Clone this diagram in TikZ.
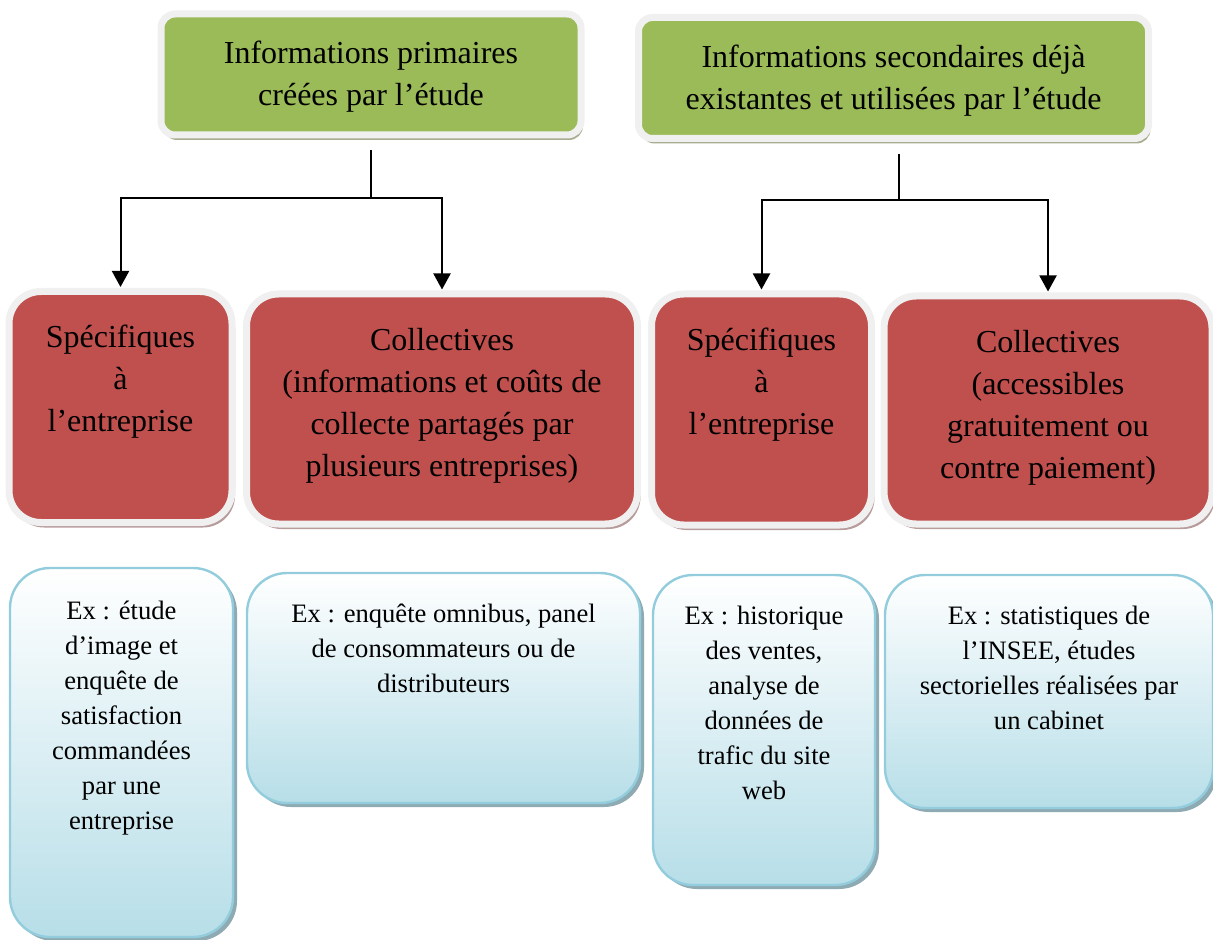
\documentclass[tikz,border=0pt]{standalone}
\usepackage{fontspec}
\setmainfont{Liberation Serif}
\usetikzlibrary{arrows.meta,shadows}

\definecolor{boxgreen}{HTML}{9BBB59}
\definecolor{greenshadow}{HTML}{A9AD8F}
\definecolor{boxred}{HTML}{C0504D}
\definecolor{redshadow}{HTML}{B89C9C}
\definecolor{boxblue}{HTML}{B7DEE8}
\definecolor{blueline}{HTML}{93CDDD}
\definecolor{blueshadow}{HTML}{8EAAB3}

\begin{document}
\begin{tikzpicture}[x=0.5pt,y=-0.5pt,
  topbox/.style={rounded corners=7pt, fill=boxgreen, draw=black!6, line width=3.5pt,
    drop shadow={shadow xshift=1pt, shadow yshift=-2.5pt, fill=greenshadow, opacity=1}},
  catbox/.style={rounded corners=16pt, fill=boxred, draw=black!6, line width=3.5pt,
    drop shadow={shadow xshift=1.5pt, shadow yshift=-2.5pt, fill=redshadow, opacity=1}},
  exbox/.style={rounded corners=20pt, top color=white, middle color=boxblue!60, bottom color=boxblue,
    draw=blueline, line width=1.2pt,
    drop shadow={shadow xshift=2pt, shadow yshift=-2pt, fill=blueshadow, opacity=1}},
  toptext/.style={align=center, inner sep=0pt, font=\fontsize{16}{21}\selectfont},
  cattext/.style={anchor=north, align=center, inner sep=0pt, font=\fontsize{16}{21}\selectfont},
  extext/.style={anchor=north, align=center, inner sep=0pt, font=\fontsize{13.3}{17.5}\selectfont},
  link/.style={line width=1pt, shorten <=6pt},
  arrowlink/.style={line width=1pt, -{Triangle[width=8.5pt,length=8pt]}, shorten >=0.5pt}]

  \useasboundingbox (0,0) rectangle (1213,940);

  % Top boxes
  \node[topbox, minimum width=210pt, minimum height=60.5pt] (g1) at (371,74.5) {};
  \node[topbox, minimum width=255pt, minimum height=60.5pt] (g2) at (893.5,78) {};

  \node[toptext] (g1t) at ([yshift=-1.2pt]g1.center) {Informations primaires\\créées par l’étude};
  \node[toptext] (g2t) at ([yshift=-1.2pt]g2.center)
    {Informations secondaires déjà\\existantes et utilisées par l’étude};

  % Category boxes
  \node[catbox, minimum width=111.5pt, minimum height=115.5pt] (r1) at (120.5,407) {};
  \node[catbox, minimum width=195.5pt, minimum height=115pt] (r2) at (442,409) {};
  \node[catbox, minimum width=110pt, minimum height=115.5pt] (r3) at (761.5,409.5) {};
  \node[catbox, minimum width=164pt, minimum height=114pt] (r4) at (1048,410) {};

  \node[cattext] (r1t) at ([yshift=-18.5pt]r1.north) {Spécifiques\\à\\l’entreprise};
  \node[cattext] (r2t) at ([yshift=-18.5pt]r2.north)
    {Collectives\\(informations et coûts de\\collecte partagés par\\plusieurs entreprises)};
  \node[cattext] (r3t) at ([yshift=-18.5pt]r3.north) {Spécifiques\\à\\l’entreprise};
  \node[cattext] (r4t) at ([yshift=-18.5pt]r4.north)
    {Collectives\\(accessibles\\gratuitement ou\\contre paiement)};

  % Example boxes
  \node[exbox, minimum width=111.5pt, minimum height=184.5pt] (b1) at (121.5,752.5) {};
  \node[exbox, minimum width=196.5pt, minimum height=115pt] (b2) at (443.5,688) {};
  \node[exbox, minimum width=111pt, minimum height=155pt] (b3) at (764,730) {};
  \node[exbox, minimum width=164pt, minimum height=116.5pt] (b4) at (1049,691.5) {};

  \node[extext] (b1t) at ([yshift=-17pt]b1.north)
    {Ex : étude\\d’image et\\enquête de\\satisfaction\\commandées\\par une\\entreprise};
  \node[extext] (b2t) at ([yshift=-16pt]b2.north)
    {Ex : enquête omnibus, panel\\de consommateurs ou de\\distributeurs};
  \node[extext] (b3t) at ([yshift=-16pt]b3.north)
    {Ex : historique\\des ventes,\\analyse de\\données de\\trafic du site\\web};
  \node[extext] (b4t) at ([yshift=-16pt]b4.north)
    {Ex : statistiques de\\l’INSEE, études\\sectorielles réalisées par\\un cabinet};

  % Draw connectors
  \coordinate (j1) at (371,198);
  \coordinate (j2) at (899,200);
  \draw[link] (g1.south) -- (j1);
  \draw[arrowlink] (j1) -| (r1.north);
  \draw[arrowlink] (j1) -| (r2.north);
  \draw[link] (g2.south -| j2) -- (j2);
  \draw[arrowlink] (j2) -| (r3.north);
  \draw[arrowlink] (j2) -| (r4.north);
\end{tikzpicture}
\end{document}
